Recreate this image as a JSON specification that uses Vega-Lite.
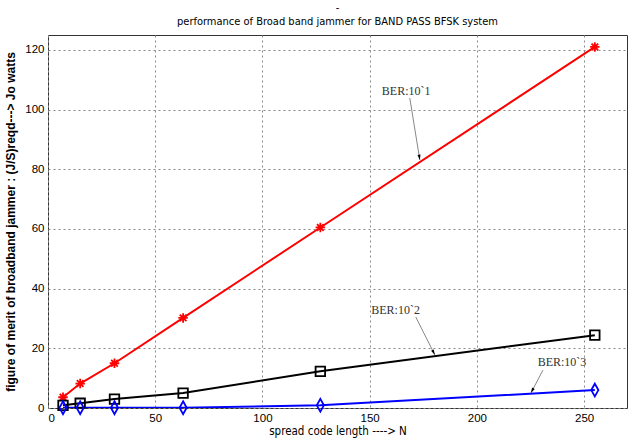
{
  "$schema": "https://vega.github.io/schema/vega-lite/v6.json",
  "autosize": {"type": "none"},
  "padding": {"left": 48, "top": 35, "right": 10, "bottom": 33},
  "width": 579,
  "height": 373,
  "background": "white",
  "config": {
    "view": {"stroke": "#333", "strokeWidth": 1},
    "axis": {
      "grid": true,
      "gridColor": "#888",
      "gridDash": [2, 3],
      "gridWidth": 1,
      "domain": false,
      "ticks": false,
      "labelFont": "Liberation Sans",
      "labelFontSize": 11.5,
      "labelColor": "#000",
      "titleColor": "#000"
    }
  },
  "title": {
    "text": ["-", "performance of Broad band jammer for BAND PASS BFSK system"],
    "font": "Liberation Sans Narrow, DejaVu Sans Condensed, Liberation Sans, sans-serif",
    "fontSize": 11,
    "fontWeight": "normal",
    "color": "#000",
    "lineHeight": 14,
    "anchor": "middle",
    "offset": 8
  },
  "datasets": {
    "series": [
      {"N": 7, "value": 3.6, "ber": "BER 1e-1"},
      {"N": 15, "value": 8.2, "ber": "BER 1e-1"},
      {"N": 31, "value": 15.0, "ber": "BER 1e-1"},
      {"N": 63, "value": 30.2, "ber": "BER 1e-1"},
      {"N": 127, "value": 60.5, "ber": "BER 1e-1"},
      {"N": 255, "value": 121.0, "ber": "BER 1e-1"},
      {"N": 7, "value": 0.9, "ber": "BER 1e-2"},
      {"N": 15, "value": 1.6, "ber": "BER 1e-2"},
      {"N": 31, "value": 3.0, "ber": "BER 1e-2"},
      {"N": 63, "value": 5.0, "ber": "BER 1e-2"},
      {"N": 127, "value": 12.3, "ber": "BER 1e-2"},
      {"N": 255, "value": 24.4, "ber": "BER 1e-2"},
      {"N": 7, "value": 0.1, "ber": "BER 1e-3"},
      {"N": 15, "value": 0.1, "ber": "BER 1e-3"},
      {"N": 31, "value": 0.1, "ber": "BER 1e-3"},
      {"N": 63, "value": 0.1, "ber": "BER 1e-3"},
      {"N": 127, "value": 0.9, "ber": "BER 1e-3"},
      {"N": 255, "value": 6.0, "ber": "BER 1e-3"}
    ],
    "notes": [
      {"label": "BER:10`1", "tx": 167.0, "ty": 106.3, "ax": 168.7, "ay": 103.9, "hx": 173.4, "hy": 83.1, "angle": 170.8},
      {"label": "BER:10`2", "tx": 162.1, "ty": 32.9, "ax": 171.5, "ay": 30.5, "hx": 180.4, "hy": 17.8, "angle": 153.4},
      {"label": "BER:10`3", "tx": 239.7, "ty": 15.4, "ax": 230.8, "ay": 12.7, "hx": 225.2, "hy": 5.0, "angle": 207.6}
    ]
  },
  "layer": [
    {
      "data": {"name": "series"},
      "mark": {"type": "line", "strokeWidth": 2, "clip": true},
      "encoding": {
        "x": {
          "field": "N", "type": "quantitative",
          "scale": {"domain": [0, 270], "nice": false},
          "axis": {"values": [0, 50, 100, 150, 200, 250], "title": "spread code length ----> N",
            "titleFont": "Liberation Sans Narrow, DejaVu Sans Condensed, Liberation Sans, sans-serif", "titleFontSize": 11.5, "titleFontWeight": "normal", "titlePadding": 2, "labelPadding": 4}
        },
        "y": {
          "field": "value", "type": "quantitative",
          "scale": {"domain": [0, 125], "nice": false},
          "axis": {"values": [0, 20, 40, 60, 80, 100, 120], "title": "figure of merit of broadband jammer  : (J/S)reqd---> Jo watts",
            "titleFont": "Liberation Sans", "titleFontSize": 12, "titleFontWeight": "bold", "titlePadding": 7, "labelPadding": 4}
        },
        "color": {
          "field": "ber", "type": "nominal",
          "scale": {"domain": ["BER 1e-1", "BER 1e-2", "BER 1e-3"], "range": ["#ff0000", "#000000", "#0000ff"]},
          "legend": null
        }
      }
    },
    {
      "data": {"name": "series"},
      "mark": {"type": "point", "filled": false, "strokeWidth": 1.8, "opacity": 1},
      "encoding": {
        "x": {"field": "N", "type": "quantitative"},
        "y": {"field": "value", "type": "quantitative"},
        "color": {"field": "ber", "type": "nominal", "legend": null},
        "shape": {
          "field": "ber", "type": "nominal",
          "scale": {"domain": ["BER 1e-1", "BER 1e-2", "BER 1e-3"],
            "range": ["M-1,0L1,0M0,-1L0,1M-0.7,-0.7L0.7,0.7M-0.7,0.7L0.7,-0.7", "square", "M0,-1.35L0.75,0L0,1.35L-0.75,0Z"]},
          "legend": null
        },
        "size": {"value": 90}
      }
    },
    {
      "data": {"name": "notes"},
      "mark": {"type": "rule", "color": "#888", "strokeWidth": 1},
      "encoding": {
        "x": {"field": "ax", "type": "quantitative"},
        "y": {"field": "ay", "type": "quantitative"},
        "x2": {"field": "hx"},
        "y2": {"field": "hy"}
      }
    },
    {
      "data": {"name": "notes"},
      "mark": {"type": "point", "filled": true, "color": "#000", "shape": "M0,0L-0.45,1.6L0.45,1.6Z", "size": 45, "opacity": 1},
      "encoding": {
        "x": {"field": "hx", "type": "quantitative"},
        "y": {"field": "hy", "type": "quantitative"},
        "angle": {"field": "angle", "type": "quantitative", "scale": null}
      }
    },
    {
      "data": {"name": "notes"},
      "mark": {"type": "text", "font": "Liberation Serif", "fontSize": 12, "color": "#333", "align": "center", "baseline": "middle"},
      "encoding": {
        "x": {"field": "tx", "type": "quantitative"},
        "y": {"field": "ty", "type": "quantitative"},
        "text": {"field": "label"}
      }
    }
  ]
}
